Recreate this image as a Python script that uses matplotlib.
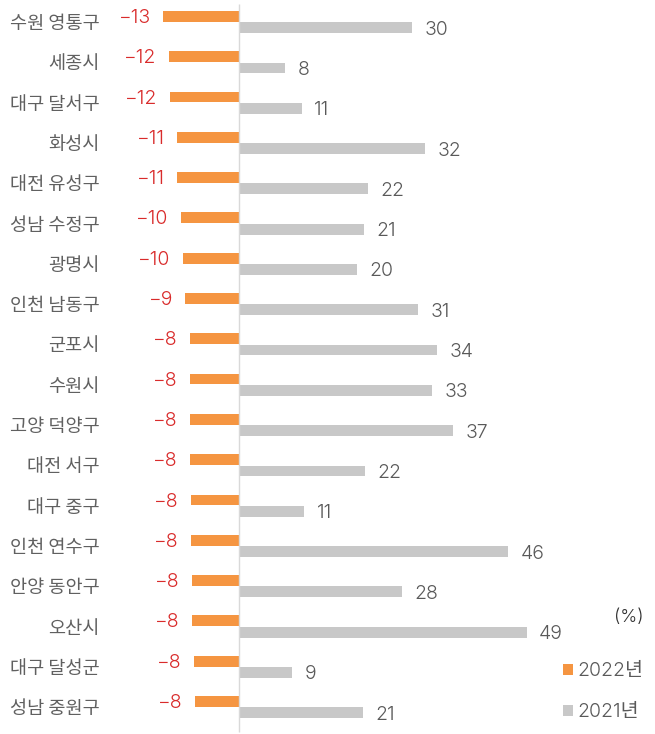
import matplotlib
matplotlib.use("Agg")
import matplotlib.pyplot as plt

plt.rcParams["font.family"] = ["Noto Sans CJK KR", "DejaVu Sans"]
NUM_FONT = ["Inter", "Noto Sans CJK KR", "DejaVu Sans"]

regions = [
    "수원 영통구", "세종시", "대구 달서구", "화성시", "대전 유성구", "성남 수정구",
    "광명시", "인천 남동구", "군포시", "수원시", "고양 덕양구", "대전 서구",
    "대구 중구", "인천 연수구", "안양 동안구", "오산시", "대구 달성군", "성남 중원구",
]
change_2022 = [-13.0, -12.0, -11.9, -10.6, -10.6, -10.0, -9.7, -9.2, -8.45,
               -8.45, -8.4, -8.35, -8.3, -8.2, -8.1, -8.0, -7.7, -7.6]
change_2021 = [29.7, 7.9, 10.8, 32.0, 22.2, 21.4, 20.3, 30.8, 34.0,
               33.2, 36.8, 21.6, 11.2, 46.2, 28.0, 49.4, 9.1, 21.3]

ORANGE = "#F59541"
GRAY = "#C8C8C8"
RED = "#D92B2B"
TEXT = "#595959"


def fmt(v):
    return f"{v:.0f}".replace("-", "\u2212")


fig = plt.figure(figsize=(6.55, 7.34), dpi=100)
ax = fig.add_axes([104 / 655, 0, 546 / 655, 1])

ypos = list(range(len(regions)))
off = 0.14
h = 0.27
b22 = ax.barh([y - off for y in ypos], change_2022, height=h, color=ORANGE, label="2022년")
b21 = ax.barh([y + off for y in ypos], change_2021, height=h, color=GRAY, label="2021년")

# value labels, nudged a little below the bar centre like the original
for y, v in zip(ypos, change_2022):
    ax.annotate(fmt(v), (v, y - off + 0.04), xytext=(-9, 0), textcoords="offset points",
                ha="right", va="center", color=RED, fontsize=14, family=NUM_FONT,
                fontweight=300)
for y, v in zip(ypos, change_2021):
    ax.annotate(fmt(v), (v, y + off + 0.05), xytext=(9, 0), textcoords="offset points",
                ha="left", va="center", color=TEXT, fontsize=14, family=NUM_FONT,
                fontweight=300)

ax.vlines(0, -0.45, 17.62, color="#D9D9D9", lw=1)

ax.set_xlim(-(239 - 104) / 5.82, (650 - 239) / 5.82)
ax.set_ylim((734 - 22) / 40.3, -22 / 40.3)
ax.set_yticks(ypos, regions)
ax.tick_params(axis="y", length=0, pad=3, labelsize=13.4, labelcolor="#606060")
ax.set_xticks([])
for s in ax.spines.values():
    s.set_visible(False)

fig.text(629 / 655, 1 - 617 / 734, "(%)", ha="center", va="center",
         fontsize=13, color="#333333", family=NUM_FONT, fontweight=300)

leg = ax.legend(handles=[b22, b21], loc="upper left",
                bbox_to_anchor=(563 / 655, 1 - 662 / 734), bbox_transform=fig.transFigure,
                frameon=False, prop={"family": NUM_FONT, "size": 14, "weight": 300},
                handlelength=0.5, handleheight=0.5, handletextpad=0.25,
                labelspacing=1.2, borderpad=0, borderaxespad=0)
for t in leg.get_texts():
    t.set_color(TEXT)

fig.savefig("out.png", dpi=100)
